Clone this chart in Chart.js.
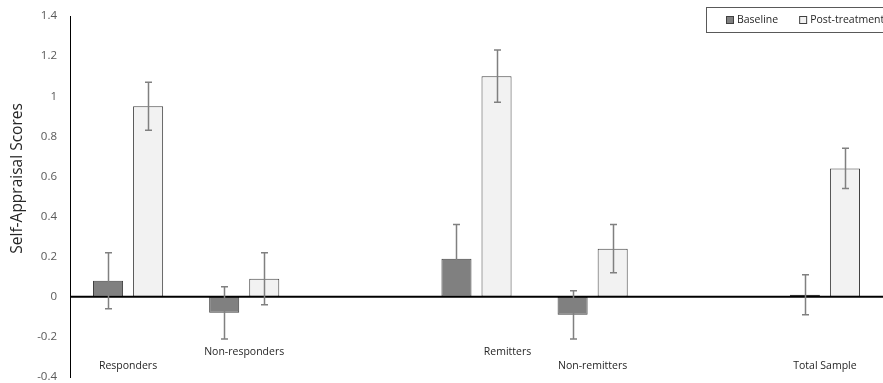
<!DOCTYPE html>
<html>
<head>
<meta charset="utf-8">
<script src="https://cdn.jsdelivr.net/npm/chart.js@4.4.0/dist/chart.umd.min.js"></script>
<style>
  html, body { margin: 0; padding: 0; background: #ffffff; }
  #wrap { width: 883px; height: 383px; position: relative; }
</style>
</head>
<body>
<div id="wrap"><canvas id="c" width="883" height="383"></canvas></div>
<script>
// ---- data ----
const categories = ['Responders', 'Non-responders', '', 'Remitters', 'Non-remitters', '', 'Total Sample'];
const seriesNames = ['Baseline', 'Post-treatment'];
const baselineValues = [0.08, -0.08, null, 0.19, -0.09, null, 0.01];
const baselineErrors = [0.14, 0.13, null, 0.17, 0.12, null, 0.10];
const postValues = [0.95, 0.09, null, 1.10, 0.24, null, 0.64];
const postErrors = [0.12, 0.13, null, 0.13, 0.12, null, 0.10];
const yTickValues = [-0.4, -0.2, 0, 0.2, 0.4, 0.6, 0.8, 1, 1.2, 1.4];
const yTitle = 'Self-Appraisal Scores';

const FONT = '"Open Sans", "Noto Sans", sans-serif';

const errorBarPlugin = {
  id: 'errorBars',
  afterDatasetsDraw(chart) {
    const ctx = chart.ctx;
    const y = chart.scales.y;
    ctx.save();
    ctx.strokeStyle = '#808080';
    ctx.lineWidth = 1.5;
    chart.data.datasets.forEach((ds, di) => {
      const meta = chart.getDatasetMeta(di);
      ds.errors.forEach((e, i) => {
        const v = ds.data[i];
        if (v === null || e === null) return;
        const bar = meta.data[i];
        const x = Math.round(bar.x) + 0.5;
        const yt = y.getPixelForValue(v + e);
        const yb = y.getPixelForValue(v - e);
        ctx.beginPath();
        ctx.moveTo(x, yt); ctx.lineTo(x, yb);
        ctx.moveTo(x - 3.5, yt); ctx.lineTo(x + 3.5, yt);
        ctx.moveTo(x - 3.5, yb); ctx.lineTo(x + 3.5, yb);
        ctx.stroke();
      });
    });
    ctx.restore();
  }
};

const zeroLinePlugin = {
  id: 'zeroLine',
  afterDatasetsDraw(chart) {
    const ctx = chart.ctx;
    const y = chart.scales.y.getPixelForValue(0);
    ctx.save();
    ctx.strokeStyle = '#000000';
    ctx.lineWidth = 2;
    ctx.beginPath();
    ctx.moveTo(chart.chartArea.left, y);
    ctx.lineTo(chart.chartArea.right, y);
    ctx.stroke();
    ctx.restore();
  }
};

const categoryLabelPlugin = {
  id: 'categoryLabels',
  afterDraw(chart, args, opts) {
    const ctx = chart.ctx;
    const xs = chart.scales.x;
    const bottom = chart.chartArea.bottom;
    ctx.save();
    ctx.font = '10.5px ' + FONT;
    ctx.fillStyle = '#262626';
    ctx.textAlign = 'center';
    ctx.textBaseline = 'middle';
    chart.data.labels.forEach((lab, i) => {
      if (!lab) return;
      const dx = (opts.offsets && opts.offsets[i]) || 0;
      const yy = (i % 2 === 1) ? bottom - opts.upperRow : bottom - opts.lowerRow;
      ctx.fillText(lab, xs.getPixelForValue(i) + dx, yy);
    });
    ctx.restore();
  }
};

const axisTitlePlugin = {
  id: 'axisTitle',
  afterDraw(chart, args, opts) {
    const ctx = chart.ctx;
    const ys = chart.scales.y;
    ctx.save();
    ctx.translate(opts.x, ys.getPixelForValue(opts.centerValue));
    ctx.rotate(-Math.PI / 2);
    ctx.font = '15.5px ' + FONT;
    ctx.fillStyle = '#262626';
    ctx.textAlign = 'center';
    ctx.textBaseline = 'middle';
    ctx.fillText(opts.text, 0, 0);
    ctx.restore();
  }
};

const legendBoxPlugin = {
  id: 'legendBox',
  afterDraw(chart) {
    const ctx = chart.ctx;
    const right = chart.chartArea.right;
    const top = 7;
    const h = 25;
    const left = 706;
    ctx.save();
    ctx.fillStyle = '#ffffff';
    ctx.fillRect(left, top, right - left + 5, h);
    ctx.strokeStyle = '#595959';
    ctx.lineWidth = 1;
    ctx.strokeRect(left + 0.5, top + 0.5, right - left + 5, h);
    ctx.font = '10.5px ' + FONT;
    ctx.textBaseline = 'middle';
    ctx.textAlign = 'left';
    let x = 726;
    const cy = top + h / 2 + 0.5;
    chart.data.datasets.forEach((ds) => {
      ctx.fillStyle = ds.backgroundColor;
      ctx.fillRect(x, cy - 3.5, 7, 7);
      ctx.strokeStyle = ds.borderColor;
      ctx.strokeRect(x + 0.5, cy - 3.5, 7, 7);
      ctx.fillStyle = '#262626';
      ctx.fillText(ds.label, x + 11, cy);
      x += 11 + ctx.measureText(ds.label).width + 21;
    });
    ctx.restore();
  }
};

new Chart(document.getElementById('c'), {
  type: 'bar',
  data: {
    labels: categories,
    datasets: [
      {
        label: seriesNames[0],
        data: baselineValues,
        errors: baselineErrors,
        backgroundColor: '#808080',
        borderColor: '#404040',
        borderWidth: 1,
        borderSkipped: false,
        categoryPercentage: 0.69,
        barPercentage: 0.75
      },
      {
        label: seriesNames[1],
        data: postValues,
        errors: postErrors,
        backgroundColor: '#f2f2f2',
        borderColor: '#404040',
        borderWidth: 1,
        borderSkipped: false,
        categoryPercentage: 0.69,
        barPercentage: 0.75
      }
    ]
  },
  options: {
    responsive: false,
    animation: false,
    layout: { padding: { top: 16, right: 0, bottom: 6, left: 0 } },
    plugins: {
      legend: { display: false },
      tooltip: { enabled: false },
      categoryLabels: { upperRow: 25, lowerRow: 11, offsets: { 3: 31 } },
      axisTitle: { text: yTitle, x: 18, centerValue: 0.59 }
    },
    scales: {
      x: {
        display: false
      },
      y: {
        min: -0.4,
        max: 1.4,
        afterBuildTicks(scale) {
          scale.ticks = yTickValues.map(v => ({ value: v }));
        },
        afterFit(scale) { scale.width = 70; },
        grid: { display: false, drawTicks: true, tickLength: 13 },
        border: { display: true, color: '#000000', width: 1 },
        ticks: {
          padding: 0,
          color: '#595959',
          font: { family: FONT, size: 11.5, lineHeight: 1 },
          callback: (v) => String(Math.round(v * 10) / 10)
        },
        title: { display: false }
      }
    }
  },
  plugins: [zeroLinePlugin, errorBarPlugin, categoryLabelPlugin, axisTitlePlugin, legendBoxPlugin]
});
</script>
</body>
</html>
